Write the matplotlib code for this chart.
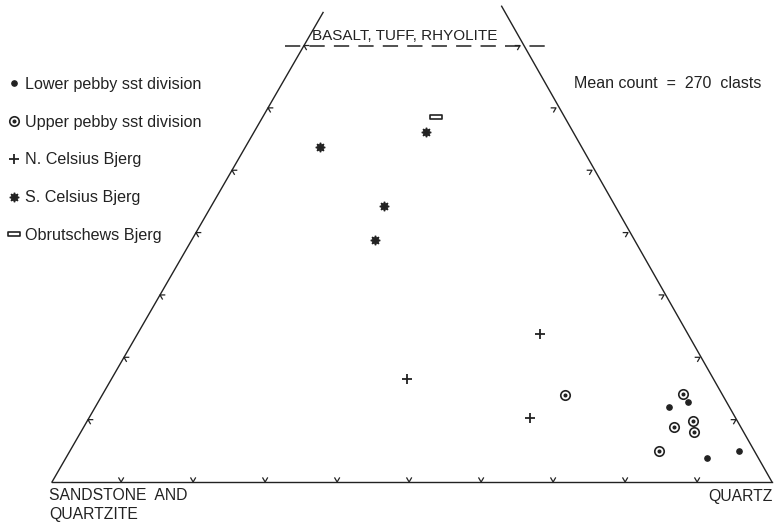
import numpy as np
import matplotlib
matplotlib.use("Agg")
import matplotlib.pyplot as plt
from matplotlib.path import Path
from matplotlib.legend_handler import HandlerTuple

plt.rcParams['font.family'] = ['Liberation Sans', 'DejaVu Sans']

# percentages: quartz (right corner) and volcanic (top)
lower_q = [79.7, 81.9, 89.0, 92.9]
lower_b = [12.0, 12.9, 3.9, 4.9]

upper_q = [64.3, 80.6, 84.1, 81.9, 85.2, 81.8]
upper_b = [14.0, 14.1, 9.8, 8.9, 8.0, 4.9]

ncel_q = [41.0, 55.9, 61.3]
ncel_b = [16.5, 23.7, 10.2]

scel_q = [10.3, 23.9, 25.5, 23.9]
scel_b = [53.8, 44.3, 38.8, 56.1]

obru_q = [24.0]
obru_b = [58.6]

tick_pct = np.arange(10, 100, 10)
top_cut = 70.0
ink = '#222222'
H = np.sqrt(3) / 2


def tern(q, b):
    q = np.asarray(q) / 100.0
    b = np.asarray(b) / 100.0
    return q + b / 2.0, b * H


fig = plt.figure(figsize=(7.75, 5.23), dpi=100)
ax = fig.add_axes([0, 0, 1, 1])
ax.set_xlim(-52 / 720, 723 / 720)
ax.set_ylim(-41 / 720, 482 / 720)
ax.axis('off')

# frame
ax.plot([0, 1], [0, 0], color=ink, lw=1.0)
xl, yl = tern([0, 0], [0, 75.3])
ax.plot(xl, yl, color=ink, lw=1.0)
xr, yr = tern([100, 24.3], [0, 76.3])
ax.plot(xr, yr, color=ink, lw=1.0)

# dashed truncation line
xa, ya = tern(0, top_cut)
xb, yb = tern(100 - top_cut, top_cut)
ax.plot([xa - 0.027, xb + 0.038], [ya, yb], color=ink, lw=1.1,
        linestyle=(0, (10, 6)))

# chevron ticks
s = 0.0065
d60 = np.array([0.5, H])
d120 = np.array([-0.5, H])
d0 = np.array([1.0, 0.0])
dm60 = np.array([0.5, -H])
d180 = np.array([-1.0, 0.0])
d240 = np.array([-0.5, -H])


def chevron(p, a1, a2):
    pts = np.array([p + s * a1, p, p + s * a2])
    ax.plot(pts[:, 0], pts[:, 1], color=ink, lw=0.9)


for t in tick_pct:
    chevron(np.array([t / 100.0 - 0.004, 0.0]), d60, d120)
for t in tick_pct[tick_pct <= top_cut]:
    chevron(np.array(tern(0, t)), d0, dm60)
    chevron(np.array(tern(100 - t, t)), d180, d240)

# data
x, y = tern(lower_q, lower_b)
h_low, = ax.plot(x, y, 'o', ms=3.8, color=ink, ls='none')

x, y = tern(upper_q, upper_b)
h_up1, = ax.plot(x, y, 'o', ms=6.8, mfc='white', mec=ink, mew=1.2, ls='none')
h_up2, = ax.plot(x, y, 'o', ms=1.9, color=ink, ls='none')

x, y = tern(ncel_q, ncel_b)
h_n, = ax.plot(x, y, '+', ms=7.5, mew=1.3, color=ink, ls='none')

x, y = tern(scel_q, scel_b)
h_s, = ax.plot(x, y, marker=(8, 1, 0), ms=6.8, color=ink, ls='none')

rect = Path([(-1, -0.42), (1, -0.42), (1, 0.42), (-1, 0.42), (-1, -0.42)],
            [Path.MOVETO, Path.LINETO, Path.LINETO, Path.LINETO, Path.CLOSEPOLY])
x, y = tern(obru_q, obru_b)
h_o, = ax.plot(x, y, marker=rect, ms=8.5, mfc='white', mec=ink, mew=1.2, ls='none')

labels = ['Lower pebby sst division', 'Upper pebby sst division',
          'N. Celsius Bjerg', 'S. Celsius Bjerg', 'Obrutschews Bjerg']
ax.legend([h_low, (h_up1, h_up2), h_n, h_s, h_o], labels,
          handler_map={tuple: HandlerTuple(ndivide=1, pad=0)},
          loc='upper left', bbox_to_anchor=(8 / 775, 1 - 77 / 523),
          bbox_transform=fig.transFigure, frameon=False, fontsize=11.6,
          handlelength=0.75, handletextpad=0.3, labelspacing=1.41,
          borderpad=0, borderaxespad=0, labelcolor=ink)

# labels
fig.text(405 / 775, 1 - 36 / 523, 'BASALT, TUFF, RHYOLITE', ha='center',
         va='center', fontsize=11, color=ink)
fig.text(574 / 775, 1 - 83 / 523, 'Mean count  =  270  clasts', ha='left',
         va='center', fontsize=11.5, color=ink)
fig.text(49 / 775, 1 - 496 / 523, 'SANDSTONE  AND', ha='left',
         va='center', fontsize=11.3, color=ink)
fig.text(49 / 775, 1 - 515 / 523, 'QUARTZITE', ha='left',
         va='center', fontsize=11.3, color=ink)
fig.text(773 / 775, 1 - 497 / 523, 'QUARTZ', ha='right',
         va='center', fontsize=11.3, color=ink)

fig.savefig('out.png', dpi=100)
